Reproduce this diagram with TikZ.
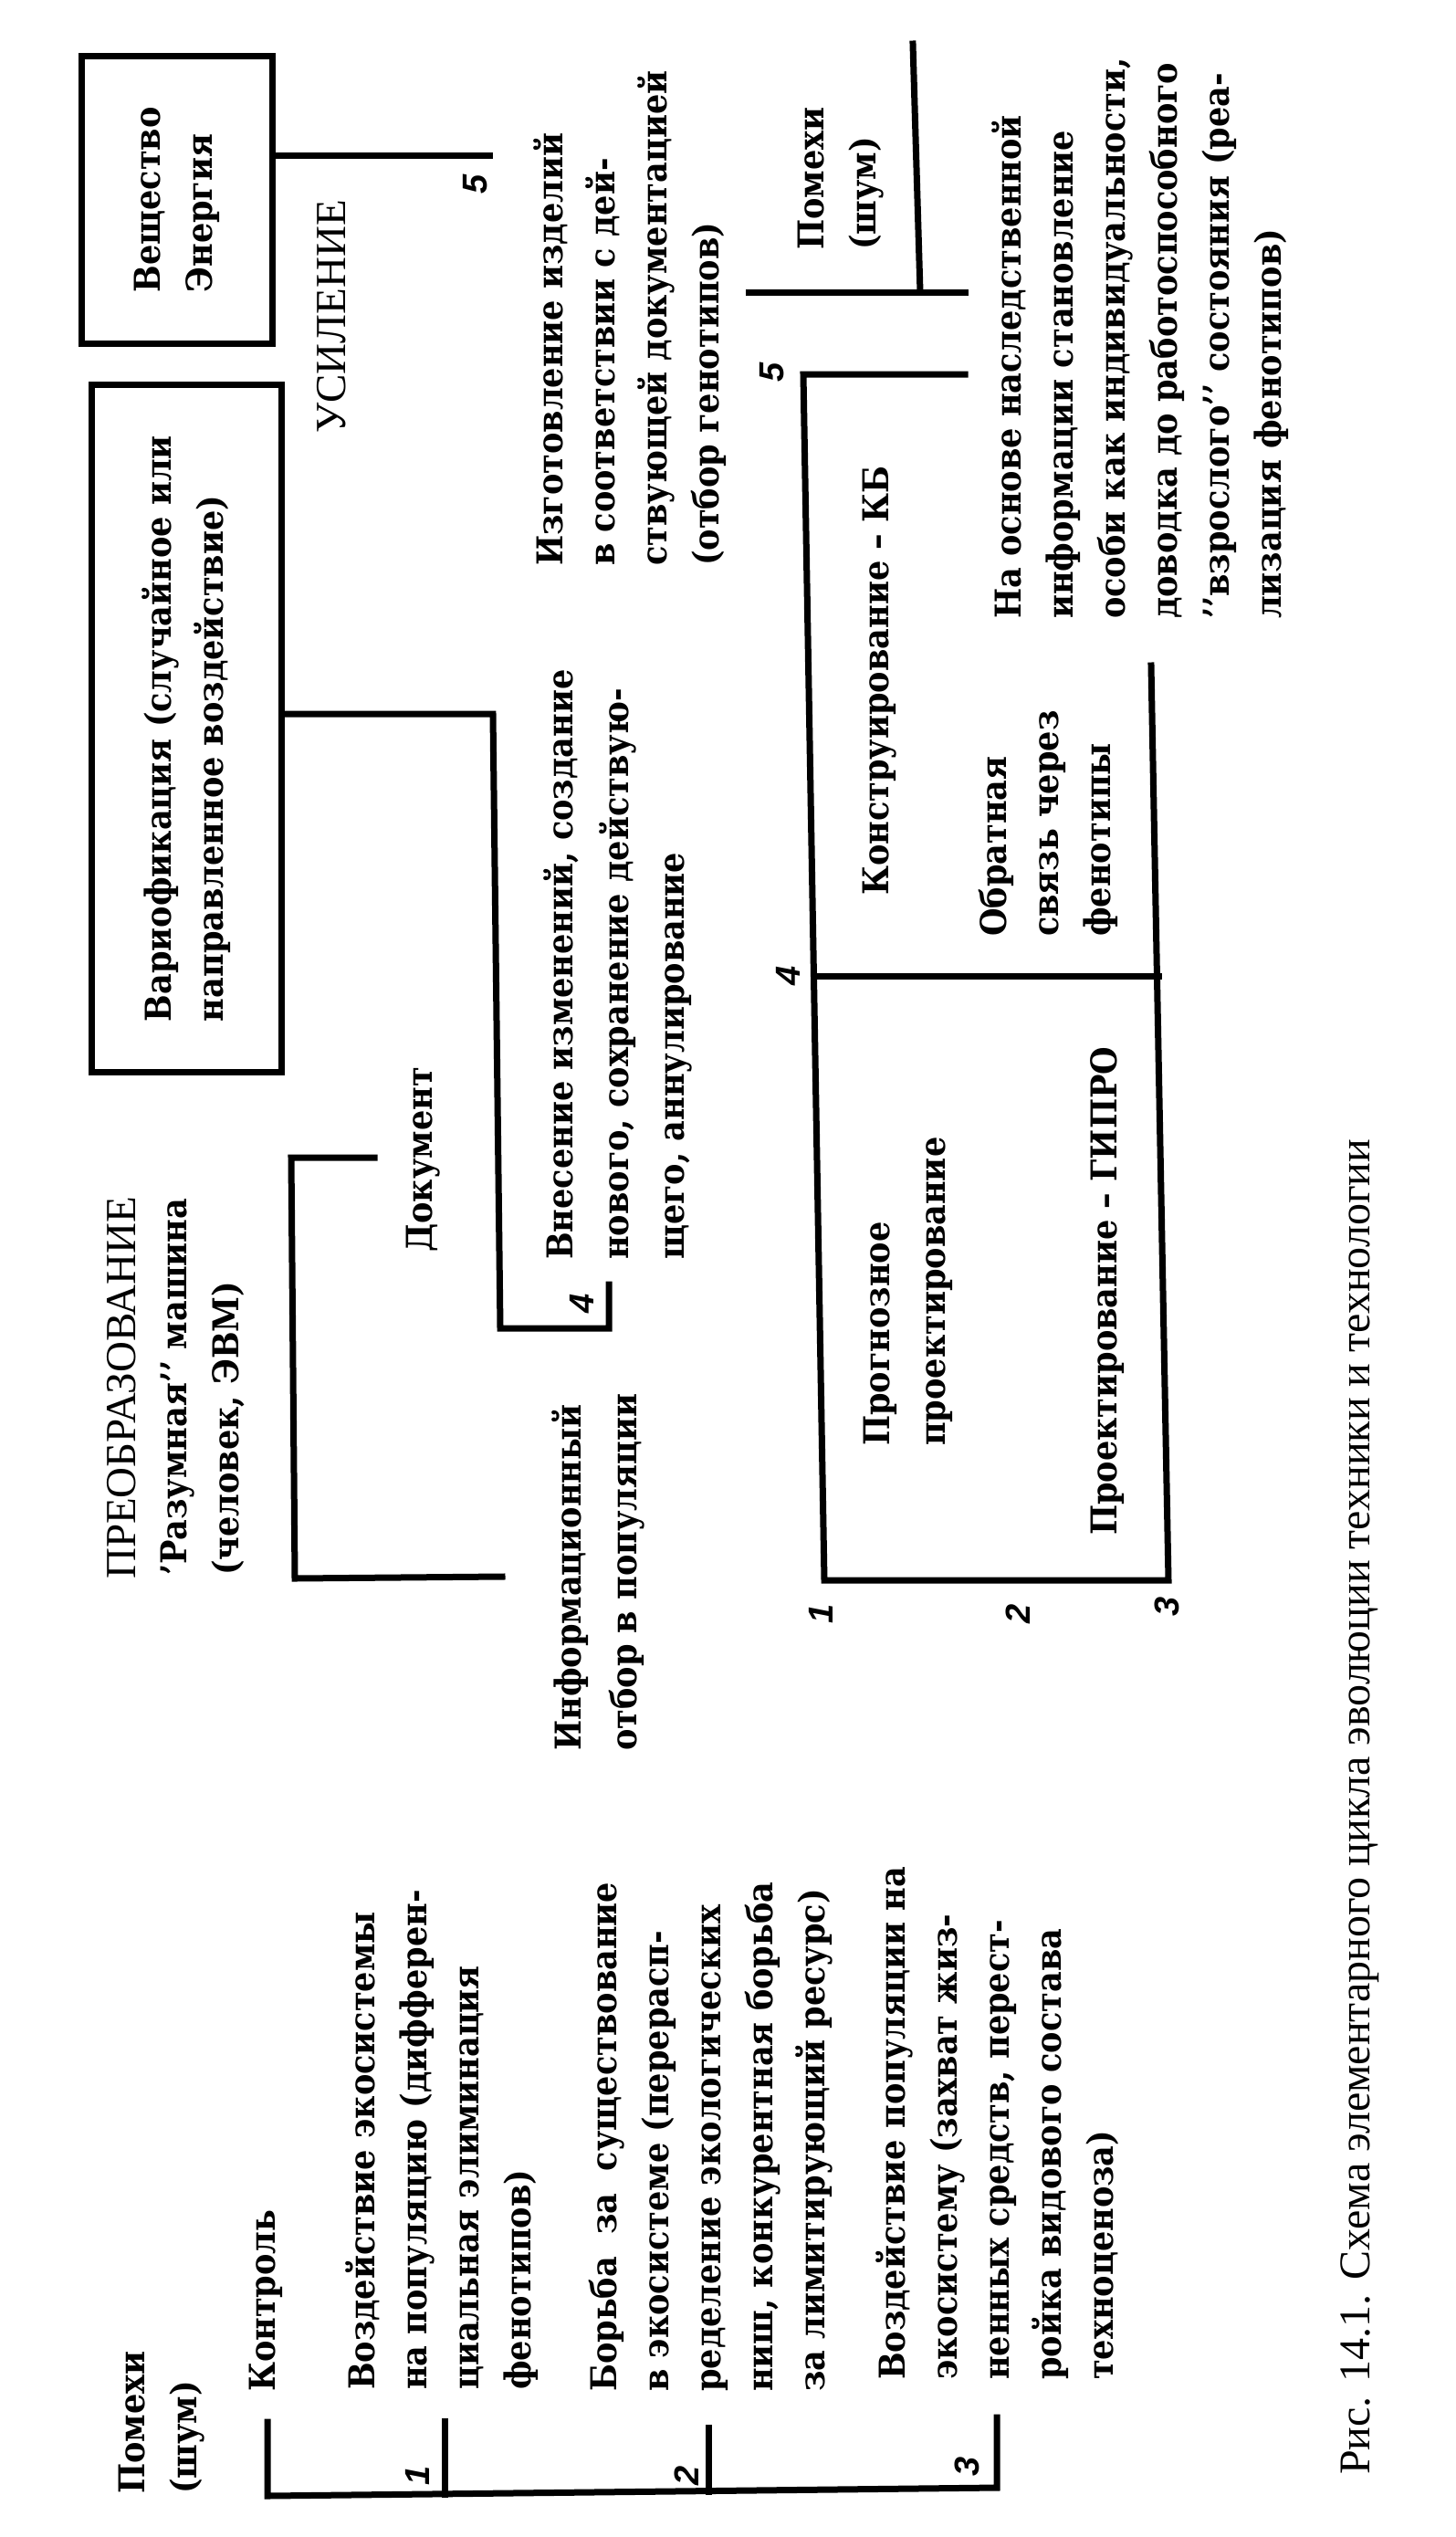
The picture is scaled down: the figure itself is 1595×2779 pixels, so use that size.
\documentclass[tikz,border=0pt]{standalone}
\usepackage{fontspec}
\IfFontExistsTF{DejaVu Serif Condensed Bold}
  {\newfontfamily\bodyf{DejaVu Serif Condensed Bold}}
  {\newfontfamily\bodyf{DejaVu Serif}}
\newfontfamily\headf{Liberation Serif}
\newfontfamily\numf{Liberation Sans}
\begin{document}
\begin{tikzpicture}[x=1pt,y=-1pt,
  ln/.style={line width=7pt, line cap=rect},
  txt/.style={rotate=90, anchor=north west, inner sep=0pt, align=left, font=\bodyf\fontsize{39}{57}\selectfont},
  wide/.style={font=\bodyf\fontsize{39}{61}\selectfont},
  head/.style={rotate=90, anchor=base west, inner sep=0pt, font=\headf\fontsize{47}{56}\selectfont},
  num/.style={rotate=90, inner sep=0pt, font=\numf\bfseries\itshape\fontsize{38}{40}\selectfont},
  box/.style={draw, line width=7pt, rotate=90, inner sep=0pt, align=left, font=\bodyf\fontsize{39}{57}\selectfont}]
\useasboundingbox (0,0) rectangle (1595,2779);

% boxes
\node[box, minimum width=315pt, minimum height=209pt] (vesh) at (194,219) {Вещество\\Энергия};
\node[box, minimum width=753pt, minimum height=208pt] (vario) at (204,798) {Вариофикация (случайное или\\направленное воздействие)};

% connector coordinates
\coordinate (c5a) at (536,170);
\coordinate (v1) at (540,782);
\coordinate (v2) at (548,1455);
\coordinate (v3) at (667,1455);
\coordinate (v4) at (667,1407);
\coordinate (d1) at (410,1268);
\coordinate (d2) at (319,1268);
\coordinate (d3) at (323,1729);
\coordinate (d4) at (550,1727);
\coordinate (p1) at (820,320);
\coordinate (p2) at (1057,320);
\coordinate (p3) at (1008,320);
\coordinate (p4) at (1000,48);
\coordinate (g1) at (1057,410);
\coordinate (g2) at (880,410);
\coordinate (g3) at (903,1731);
\coordinate (g4) at (1280,1731);
\coordinate (g5) at (1261,729);
\coordinate (h1) at (892,1069);
\coordinate (h2) at (1269,1069);
\coordinate (b0) at (293,2653);
\coordinate (bl) at (293,2734);
\coordinate (br) at (1092,2725);
\coordinate (b9) at (1092,2648);
\coordinate (t1a) at (487,2652);
\coordinate (t1b) at (487,2732);
\coordinate (t2a) at (776,2659);
\coordinate (t2b) at (776,2729);

% connectors
\draw[ln] (vesh.south |- c5a) -- (c5a);
\draw[ln] (vario.south |- v1) -- (v1) -- (v2) -- (v3) -- (v4);
\draw[ln] (d1) -- (d2) -- (d3) -- (d4);
\draw[ln] (p1) -- (p2);
\draw[ln] (p3) -- (p4);
\draw[ln] (g1) -- (g2) -- (g3) -- (g4) -- (g5);
\draw[ln] (h1) -- (h2);
\draw[ln] (b0) -- (bl) -- (br) -- (b9);
\draw[ln] (t1a) -- (t1b);
\draw[ln] (t2a) -- (t2b);

% headings
\node[head] (usil) at (378,475) {УСИЛЕНИЕ};
\node[head] (preobr) at (148,1730) {ПРЕОБРАЗОВАНИЕ};
\node[head, font=\headf\fontsize{48}{56}\selectfont] (capt) at (1500,2711) {Рис. 14.1. Схема элементарного цикла эволюции техники и технологии};

% texts
\node[txt] (izgot) at (584,620) {Изготовление изделий\\в соответствии с дей-\\ствующей документацией\\(отбор генотипов)};
\node[txt, wide] (vnes) at (595,1380) {Внесение изменений, создание\\нового, сохранение действую-\\щего, аннулирование};
\node[txt] (doc) at (445,1372) {Документ};
\node[txt] (razum) at (176,1726) {’Разумная’’ машина\\(человек, ЭВМ)};
\node[txt, wide] (info) at (604,1918) {Информационный\\отбор в популяции};
\node[txt] (pom1) at (130,2732) {Помехи\\(шум)};
\node[txt] (kontr) at (273,2620) {Контроль};
\node[txt] (vozd1) at (378,2618) {Воздействие экосистемы\\на популяцию (дифферен-\\циальная элиминация\\фенотипов)};
\node[txt] (borba) at (645,2620) {Борьба~~за~~существование\\в экосистеме (перерасп-\\ределение экологических\\ниш, конкурентная борьба\\за лимитирующий ресурс)};
\node[txt] (vozd2) at (959,2607) {Воздействие популяции на\\экосистему (захват жиз-\\ненных средств, перест-\\ройка видового состава\\техноценоза)};
\node[txt] (pom2) at (874,274) {Помехи\\(шум)};
\node[txt] (naosn) at (1086,678) {На основе наследственной\\информации становление\\особи как индивидуальности,\\доводка до работоспособного\\’’взрослого’’ состояния (реа-\\лизация фенотипов)};
\node[txt] (konstr) at (945,981) {Конструирование – КБ};
\node[txt] (obrat) at (1072,1026) {Обратная\\связь через\\фенотипы};
\node[txt, wide] (progn) at (946,1584) {Прогнозное\\проектирование};
\node[txt] (gipro) at (1194,1682) {Проектирование – ГИПРО};

% numbers
\node[num] (l5a) at (521,202) {5};
\node[num] (l5b) at (846,408) {5};
\node[num] (l4a) at (637,1428) {4};
\node[num] (l4b) at (863,1069) {4};
\node[num] (l1a) at (899,1768) {1};
\node[num] (l2a) at (1115,1768) {2};
\node[num] (l3a) at (1278,1760) {3};
\node[num] (l1b) at (457,2712) {1};
\node[num] (l2b) at (752,2712) {2};
\node[num] (l3b) at (1059,2702) {3};
\end{tikzpicture}
\end{document}
